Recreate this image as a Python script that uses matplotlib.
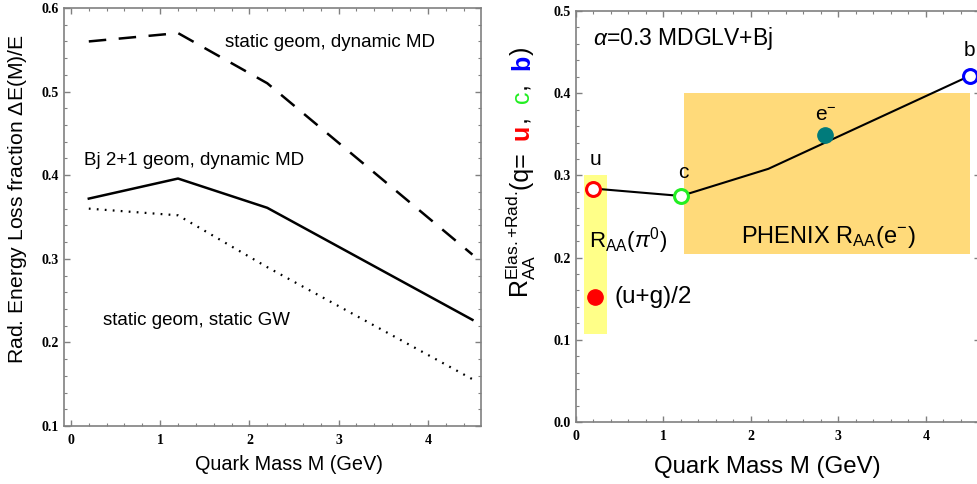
import matplotlib
matplotlib.use('Agg')
import matplotlib.pyplot as plt
from matplotlib.patches import Rectangle
from matplotlib.ticker import MultipleLocator

plt.rcParams['font.family'] = 'Liberation Sans'
plt.rcParams['mathtext.fontset'] = 'custom'
plt.rcParams['mathtext.rm'] = 'Liberation Sans'
plt.rcParams['mathtext.it'] = 'Liberation Sans:italic'
plt.rcParams['mathtext.bf'] = 'Liberation Sans:bold'

# left panel: radiative energy loss fraction vs quark mass
mass = [0.2, 1.2, 2.2, 4.5]
loss_static_dyn = [0.56, 0.57, 0.51, 0.305]
loss_bj_dyn = [0.372, 0.396, 0.361, 0.227]
loss_static_gw = [0.36, 0.352, 0.29, 0.156]

# right panel: R_AA vs quark mass
raa_mass = [0.2, 1.2, 2.2, 4.5]
raa_curve = [0.284, 0.275, 0.308, 0.421]
quark_names = ['u', 'c', 'b']
quark_mass = [0.2, 1.2, 4.5]
quark_raa = [0.284, 0.275, 0.421]
quark_colors = ['red', '#22ee22', 'blue']
electron_point = (2.85, 0.349)
pion_point = (0.22, 0.152)
pion_band = (0.09, 0.35, 0.107, 0.30)      # x0, x1, y0, y1
phenix_band = (1.23, 4.5, 0.204, 0.40)

tick_font = dict(family='Liberation Serif', weight='bold', size=10)
gray = '#808080'


def style_axes(ax, xminor, yminor):
    for s in ax.spines.values():
        s.set_color(gray)
        s.set_linewidth(1.2)
    ax.xaxis.set_minor_locator(MultipleLocator(xminor))
    ax.yaxis.set_minor_locator(MultipleLocator(yminor))
    ax.tick_params(which='both', direction='in', top=True, right=True, color=gray)
    ax.tick_params(which='major', length=4, width=1)
    ax.tick_params(which='minor', length=2.5, width=0.8)
    ax.tick_params(axis='y', pad=4)
    ax.tick_params(axis='x', pad=6)
    for lab in ax.get_xticklabels() + ax.get_yticklabels():
        lab.set_fontproperties(tick_font)


fig = plt.figure(figsize=(9.78, 4.84), dpi=100)

# ---- left panel
ax1 = fig.add_axes([64 / 978, 1 - 426 / 484, 417 / 978, 418 / 484])
ax1.plot(mass, loss_static_dyn, color='black', lw=1.8, dashes=(7, 5))
ax1.plot(mass, loss_bj_dyn, color='black', lw=1.8)
ax1.plot(mass, loss_static_gw, color='black', lw=1.6, dashes=(0.8, 2.8))
ax1.set_xlim(-0.078, 4.596)
ax1.set_ylim(0.1, 0.6)
ax1.set_xticks([0, 1, 2, 3, 4])
ax1.set_yticks([0.1, 0.2, 0.3, 0.4, 0.5, 0.6])
ax1.set_yticklabels(['0.1', '0.2', '0.3', '0.4', '0.5', '0.6'])
style_axes(ax1, 0.2, 0.02)

ax1.text(1.73, 0.559, 'static geom, dynamic MD', fontsize=13.5, va='center')
ax1.text(0.15, 0.418, 'Bj 2+1 geom, dynamic MD', fontsize=13.5, va='center')
ax1.text(0.36, 0.226, 'static geom, static GW', fontsize=13.5, va='center')

fig.text(18 / 978, 1 - 199 / 484, r'Rad. Energy Loss fraction $\Delta$E(M)/E',
         rotation=90, fontsize=15.2, ha='center', va='center')
fig.text(289 / 978, 1 - 465 / 484, 'Quark Mass M (GeV)', fontsize=14.3,
         ha='center', va='center')

# ---- right panel
ax2 = fig.add_axes([576 / 978, 1 - 422 / 484, 404 / 978, 411 / 484])
ax2.add_patch(Rectangle((pion_band[0], pion_band[2]), pion_band[1] - pion_band[0],
                        pion_band[3] - pion_band[2], color='#ffff88', lw=0, zorder=0))
ax2.add_patch(Rectangle((phenix_band[0], phenix_band[2]), phenix_band[1] - phenix_band[0],
                        phenix_band[3] - phenix_band[2], color='#ffda7a', lw=0, zorder=0))
ax2.plot(raa_mass, raa_curve, color='black', lw=1.5, zorder=2)
for name, m, r, c in zip(quark_names, quark_mass, quark_raa, quark_colors):
    ax2.plot(m, r, 'o', ms=10, mfc='white', mec=c, mew=2.2, zorder=3)
ax2.plot(*electron_point, 'o', ms=11, color='#007b7b', zorder=3)
ax2.plot(*pion_point, 'o', ms=11, color='red', zorder=3)
ax2.set_xlim(0.02, 4.62)
ax2.set_ylim(0.0, 0.5)
ax2.set_xticks([0, 1, 2, 3, 4])
ax2.set_yticks([0.0, 0.1, 0.2, 0.3, 0.4, 0.5])
ax2.set_yticklabels(['0.0', '0.1', '0.2', '0.3', '0.4', '0.5'])
style_axes(ax2, 0.2, 0.02)

ax2.text(0.2, 0.466, r'$\alpha$=0.3 MDGLV+Bj', fontsize=16.5, va='center')
ax2.text(0.22, 0.319, 'u', fontsize=15, ha='center', va='center')
ax2.text(1.23, 0.304, 'c', fontsize=15, ha='center', va='center')
ax2.text(2.86, 0.373, r'e$^{-}$', fontsize=15, ha='center', va='center')
ax2.text(4.5, 0.452, 'b', fontsize=15, ha='center', va='center')
ax2.text(0.15, 0.221, r'R$_{\mathrm{AA}}$($\pi^{0}$)', fontsize=16, va='center')
ax2.text(0.44, 0.152, '(u+g)/2', fontsize=17.5, va='center')
ax2.text(1.89, 0.225, r'PHENIX R$_{\mathrm{AA}}$(e$^{-}$)', fontsize=17, va='center')

fig.text(767 / 978, 1 - 467 / 484, 'Quark Mass M (GeV)', fontsize=17.3,
         ha='center', va='center')

# multi-coloured y label, built piece by piece along the baseline
pieces = [(r'R$_{\mathrm{AA}}^{\mathrm{Elas.{+}Rad.}}$', 'black', 'normal'),
          ('(q=  ', 'black', 'normal'),
          ('u', 'red', 'bold'),
          (',  ', 'black', 'normal'),
          ('c', '#22ee22', 'normal'),
          (',  ', 'black', 'normal'),
          ('b', 'blue', 'bold'),
          (')', 'black', 'normal')]
fig.canvas.draw()
renderer = fig.canvas.get_renderer()
ybase = 298
xbase = 529
for txt, col, wt in pieces:
    t = fig.text(xbase / 978, 1 - ybase / 484, txt, color=col, fontsize=18,
                 weight=wt, rotation=90, rotation_mode='anchor',
                 ha='left', va='baseline')
    bb = t.get_window_extent(renderer)
    ybase -= bb.height

fig.savefig('out.png', dpi=100)
